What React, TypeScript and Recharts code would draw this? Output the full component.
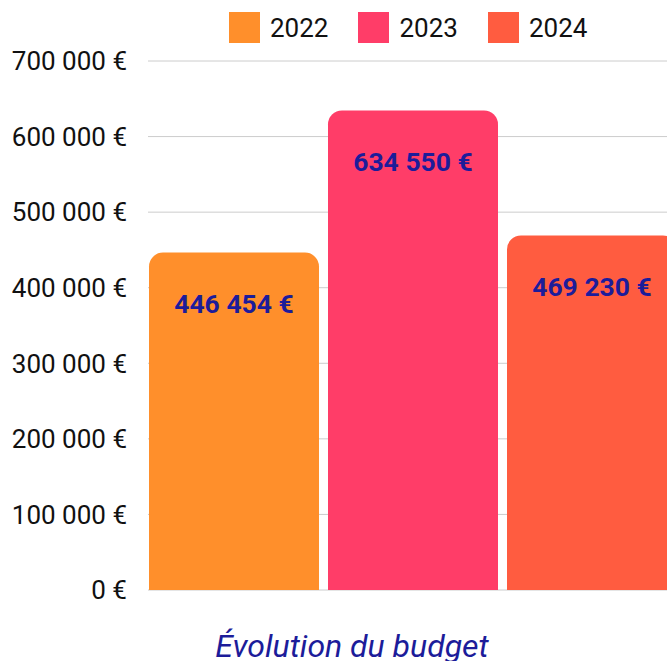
import React from "react";
import {
  BarChart,
  Bar,
  XAxis,
  YAxis,
  CartesianGrid,
  Legend,
  LabelList,
} from "recharts";

const categories = ["Budget"];
const years = ["2022", "2023", "2024"];
const budget2022 = [446454];
const budget2023 = [634550];
const budget2024 = [469230];
const yTicks = [0, 100000, 200000, 300000, 400000, 500000, 600000, 700000];
const barColors = ["#FF8F2B", "#FF3D68", "#FF5C40"];

const FONT = "Roboto, sans-serif";
const LABEL_BLUE = "#1c1c9a";

const data = categories.map((name, i) => ({
  name,
  "2022": budget2022[i],
  "2023": budget2023[i],
  "2024": budget2024[i],
}));

// "446 454 €" style formatting
const euro = (v: number) =>
  `${String(Math.round(v)).replace(/\B(?=(\d{3})+(?!\d))/g, " ")} €`;

const ValueLabel = (props: any) => {
  const { x, y, width, value } = props;
  return (
    <text
      x={x + width / 2}
      y={y + 51}
      textAnchor="middle"
      dominantBaseline="central"
      fill={LABEL_BLUE}
      fontFamily={FONT}
      fontWeight={700}
      fontSize={26.5}
    >
      {euro(value)}
    </text>
  );
};

const LegendContent = () => (
  <div style={{ display: "flex", alignItems: "center", fontFamily: FONT }}>
    {years.map((y, i) => (
      <div
        key={y}
        style={{ display: "flex", alignItems: "center", marginRight: 30 }}
      >
        <span
          style={{
            width: 31,
            height: 31,
            background: barColors[i],
            display: "inline-block",
            marginRight: 10,
          }}
        />
        <span style={{ fontSize: 26, color: "#111" }}>{y}</span>
      </div>
    ))}
  </div>
);

export default function App() {
  return (
    <div
      style={{
        width: 659,
        height: 653,
        overflow: "hidden",
        position: "relative",
      }}
    >
      {/* chart is cropped at the window edge like the source */}
      <style>{"html,body{overflow:hidden} body{margin:8px 0 0 8px}"}</style>
      <BarChart
        width={700}
        height={700}
        data={data}
        margin={{ top: 53, right: 31, bottom: 87, left: 0 }}
        barSize={170}
        barGap={9}
      >
        <CartesianGrid vertical={false} stroke="#cccccc" />
        <XAxis dataKey="name" hide />
        <YAxis
          width={140}
          domain={[0, 700000]}
          ticks={yTicks}
          tickFormatter={euro}
          axisLine={false}
          tickLine={false}
          tickSize={0}
          tickMargin={21}
          tick={{ fill: "#111", fontSize: 26, fontFamily: FONT }}
        />
        <Legend
          content={<LegendContent />}
          wrapperStyle={{ top: 4, left: 221, width: "auto" }}
        />
        {years.map((y, i) => (
          <Bar
            key={y}
            dataKey={y}
            fill={barColors[i]}
            radius={[14, 14, 0, 0]}
            isAnimationActive={false}
          >
            <LabelList dataKey={y} content={<ValueLabel />} />
          </Bar>
        ))}
      </BarChart>
      <div
        style={{
          position: "absolute",
          left: 0,
          width: 688,
          top: 618,
          textAlign: "center",
          fontFamily: FONT,
          fontStyle: "italic",
          fontSize: 32,
          color: LABEL_BLUE,
          lineHeight: "40px",
        }}
      >
        Évolution du budget
      </div>
    </div>
  );
}
